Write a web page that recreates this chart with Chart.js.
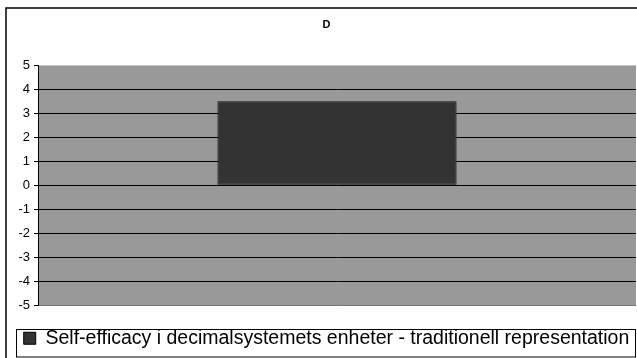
<!DOCTYPE html>
<html>
<head>
<meta charset="utf-8">
<script src="https://cdn.jsdelivr.net/npm/chart.js@4/dist/chart.umd.min.js"></script>
<style>
  html, body { margin: 0; padding: 0; background: #fff; overflow: hidden; }
  #wrap { width: 637px; height: 358px; }
</style>
</head>
<body>
<div id="wrap"><canvas id="c" width="637" height="358"></canvas></div>
<script>
// Chart content
const chartTitle = 'D';
const categories = [''];
const seriesName = 'Self-efficacy i decimalsystemets enheter - traditionell representation';
const seriesValues = [3.5];
const yTickValues = [-5, -4, -3, -2, -1, 0, 1, 2, 3, 4, 5];

const FONT = '"Liberation Sans", Arial, sans-serif';

// Frame, plot background and legend box
const framePlugin = {
  id: 'frame',
  beforeDraw(chart) {
    const ctx = chart.ctx;
    const { left, top, right, bottom } = chart.chartArea;
    ctx.save();
    ctx.fillStyle = '#ffffff';
    ctx.fillRect(0, 0, chart.width, chart.height);
    // outer chart border (runs past the right and bottom edges)
    ctx.strokeStyle = '#000000';
    ctx.lineWidth = 1.5;
    ctx.strokeRect(6, 8, chart.width + 10, chart.height + 10);
    // plot area fill
    ctx.fillStyle = '#999999';
    ctx.fillRect(left, top, right - left, bottom - top);
    ctx.restore();
  },
  afterDraw(chart) {
    const ctx = chart.ctx;
    const { right, bottom } = chart.chartArea;
    const boxTop = Math.round(bottom) + 23;
    ctx.save();
    ctx.strokeStyle = '#000000';
    ctx.lineWidth = 1;
    ctx.strokeRect(16.5, boxTop + 0.5, Math.round(right) - 17, chart.height - boxTop - 1.5);
    ctx.restore();
  }
};

new Chart(document.getElementById('c'), {
  type: 'bar',
  data: {
    labels: categories,
    datasets: [{
      label: seriesName,
      data: seriesValues,
      backgroundColor: '#333333',
      borderColor: '#111111',
      borderWidth: 1,
      borderSkipped: false,
      barPercentage: 0.4,
      categoryPercentage: 1.0
    }]
  },
  options: {
    responsive: false,
    animation: false,
    layout: { padding: { left: 17, right: 1, top: 0, bottom: 0 } },
    plugins: {
      title: {
        display: true,
        text: chartTitle,
        color: '#000000',
        font: { family: FONT, size: 11, weight: 'bold' },
        padding: { top: 18, bottom: 34 }
      },
      legend: {
        position: 'bottom',
        labels: {
          color: '#000000',
          font: { family: FONT, size: 19.5 },
          boxWidth: 12,
          boxHeight: 12,
          padding: 5,
          generateLabels(chart) {
            const ds = chart.data.datasets[0];
            return [{
              text: ds.label,
              fillStyle: '#333333',
              strokeStyle: '#000000',
              lineWidth: 1,
              datasetIndex: 0,
              fontColor: '#000000'
            }];
          }
        }
      },
      tooltip: { enabled: false }
    },
    scales: {
      x: {
        display: true,
        afterFit(scale) { scale.height = 18; },
        ticks: { display: false },
        grid: { display: false, drawTicks: false },
        border: { display: false }
      },
      y: {
        min: yTickValues[0],
        max: yTickValues[yTickValues.length - 1],
        afterBuildTicks(scale) {
          scale.ticks = yTickValues.map(v => ({ value: v }));
        },
        afterFit(scale) { scale.width = 21; },
        ticks: {
          color: '#000000',
          font: { family: FONT, size: 13 },
          padding: 4
        },
        grid: {
          // plot edges are lighter than the inner gridlines
          color(ctx) {
            const v = ctx.tick && ctx.tick.value;
            if (v === yTickValues[yTickValues.length - 1]) return '#c8c8c8';
            if (v === yTickValues[0]) return '#777777';
            return '#000000';
          },
          lineWidth: 1,
          tickLength: 4,
          tickColor: '#000000'
        },
        border: { display: true, color: '#000000', width: 1 }
      }
    }
  },
  plugins: [framePlugin]
});
</script>
</body>
</html>
